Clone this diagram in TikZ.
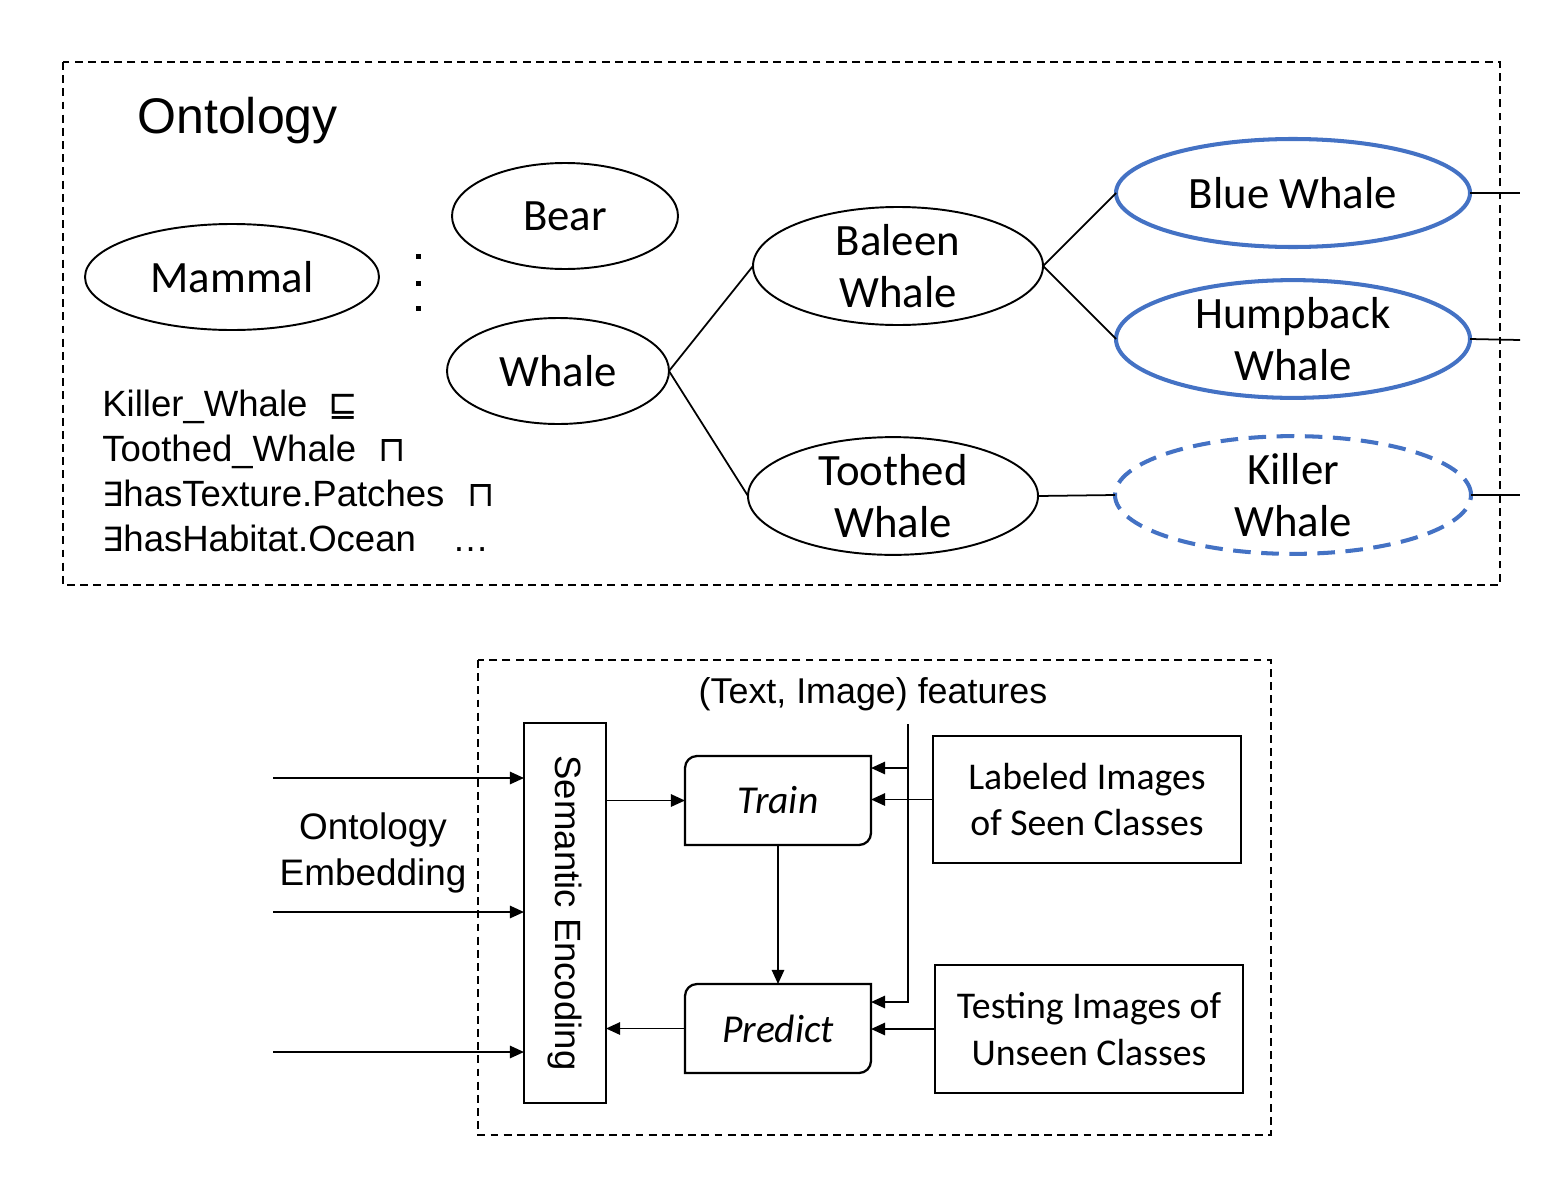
\documentclass[tikz,border=0pt]{standalone}
\usepackage{fontspec}
\usepackage{graphicx}
\setmainfont{Liberation Sans}
\newfontfamily\calfont{Carlito}
\newfontfamily\symfont{DejaVu Sans}
\usetikzlibrary{shapes.geometric,arrows.meta}
\definecolor{oblue}{RGB}{68,114,196}
\tikzset{
  elli/.style 2 args={ellipse, draw, line width=1.1pt, minimum width=#1*0.02cm, minimum height=#2*0.02cm, inner sep=0pt, outer sep=0pt, align=center, font=\calfont\fontsize{25.5}{29.5}\selectfont},
  blueelli/.style={draw=oblue, line width=2.3pt},
  conn/.style={line width=1pt},
  dashbox/.style={line width=1pt, dash pattern=on 4.5pt off 3pt},
  arr/.style={line width=1.1pt, -{Triangle[length=8pt,width=7pt]}},
  box/.style={draw, line width=1.3pt, inner sep=0pt, outer sep=0pt, align=center, minimum width=#1},
  ax/.style={anchor=base west, inner sep=0pt, font=\fontsize{20.8}{25}\selectfont},
  axs/.style={anchor=base west, inner sep=0pt, font=\symfont\fontsize{20}{22}\selectfont},
}
\begin{document}
\begin{tikzpicture}[x=0.02cm, y=-0.02cm]
\useasboundingbox (0,0) rectangle (1568,1190);
% ---------- Ontology part
\draw[dashbox] (63,62) rectangle (1500,585);
\node[anchor=base west, inner sep=0pt, font=\fontsize{28.5}{32}\selectfont] (title) at (137,133) {Ontology};

\node[elli={294}{106}] (mammal) at (232,277) {Mammal};
\node[elli={226}{106}] (bear) at (565,216) {Bear};
\node[elli={222}{106}] (whale) at (558,371) {Whale};
\node[elli={290}{118}] (baleen) at (898,266) {Baleen\\Whale};
\node[elli={290}{114}] (toothed) at (893,496) {Toothed\\Whale};
\node[elli={354}{108}, blueelli] (blue) at (1293,193) {Blue Whale};
\node[elli={354}{106}, blueelli] (hump) at (1293,339) {Humpback\\Whale};
\node[elli={356}{104}, draw=oblue, line width=2.3pt, dash pattern=on 10pt off 6pt] (killer) at (1293,495) {Killer\\Whale};

\fill (415.5,253.5) rectangle (420.5,258.5);
\fill (415.5,280.5) rectangle (420.5,285.5);
\fill (415.5,305.5) rectangle (420.5,310.5);

\draw[conn] (whale.east) -- (baleen.west);
\draw[conn] (whale.east) -- (toothed.west);
\draw[conn] (baleen.east) -- (blue.west);
\draw[conn] (baleen.east) -- (hump.west);
\draw[conn] (toothed.east) -- (killer.west);
\coordinate (o1) at (1520,193);
\coordinate (o2) at (1520,340);
\coordinate (o3) at (1520,495);
\draw[conn] (blue.east) -- (o1);
\draw[conn] (hump.east) -- (o2);
\draw[conn] (killer.east) -- (o3);

\node[ax] (a1) at (102,416) {Killer\_Whale};
\node[ax] (a2) at (102,461) {Toothed\_Whale};
\node[ax] (a3) at (102,506) {{\symfont\fontsize{19}{20}\selectfont ∃}hasTexture.Patches};
\node[ax] (a4) at (102,551) {{\symfont\fontsize{19}{20}\selectfont ∃}hasHabitat.Ocean};
\node[axs] (s1) at (328,416) {⊑};
\node[axs] (s2) at (378,461) {⊓};
\node[axs] (s3) at (467,506) {⊓};
\node[ax] (s4) at (452,551) {…};

% ---------- Lower part
\draw[dashbox] (478,660) rectangle (1271,1135);
\node[inner sep=0pt, font=\fontsize{20.4}{24}\selectfont] (feat) at (873,694) {(Text, Image) features};

\node[box=82*0.02cm, minimum height=380*0.02cm] (se) at (565,913)
  {\rotatebox{-90}{\fontsize{20.8}{24}\selectfont Semantic Encoding}};

\node[inner sep=0pt, align=center, font=\fontsize{21}{26.6}\selectfont] (oe) at (373,853) {Ontology\\Embedding};

\node[inner sep=0pt, outer sep=0pt, minimum width=186*0.02cm, minimum height=89*0.02cm, font=\calfont\itshape\fontsize{22.5}{26}\selectfont] (train) at (778,800.5) {Train};
\node[inner sep=0pt, outer sep=0pt, minimum width=186*0.02cm, minimum height=89*0.02cm, font=\calfont\itshape\fontsize{22.5}{26}\selectfont] (pred) at (778,1028.5) {Predict};
\foreach \n in {train,pred}{
  \draw[line width=1.3pt] (\n.south west) -- ([yshift=-0.24cm]\n.north west)
     arc[start angle=180, end angle=90, radius=0.24cm] -- (\n.north east)
     -- ([yshift=0.24cm]\n.south east)
     arc[start angle=0, end angle=-90, radius=0.24cm] -- cycle;
}

\node[box=308*0.02cm, minimum height=127*0.02cm, font=\calfont\fontsize{21.5}{26.6}\selectfont] (lab) at (1087,799.5) {Labeled Images\\of Seen Classes};
\node[box=308*0.02cm, minimum height=128*0.02cm, font=\calfont\fontsize{21.5}{26.6}\selectfont] (test) at (1089,1029) {Testing Images of\\Unseen Classes};

\coordinate (in1) at (273,778);
\coordinate (in2) at (273,912);
\coordinate (in3) at (273,1052);
\draw[arr] (in1) -- (in1 -| se.west);
\draw[arr] (in2) -- (in2 -| se.west);
\draw[arr] (in3) -- (in3 -| se.west);

\draw[arr] (se.east |- train.west) -- (train.west);
\draw[arr] (pred.west) -- (pred.west -| se.east);
\draw[arr] (train.south) -- (pred.north);
\draw[arr] (lab.west) -- (lab.west -| train.east);
\draw[arr] (test.west) -- (test.west -| pred.east);

\coordinate (ftop) at (908,724);
\coordinate (fmid) at (908,768);
\coordinate (fbot) at (908,1002);
\draw[arr] (ftop) -- (fbot) -- (fbot -| pred.east);
\draw[arr] (fmid) -- (fmid -| train.east);
\end{tikzpicture}
\end{document}
